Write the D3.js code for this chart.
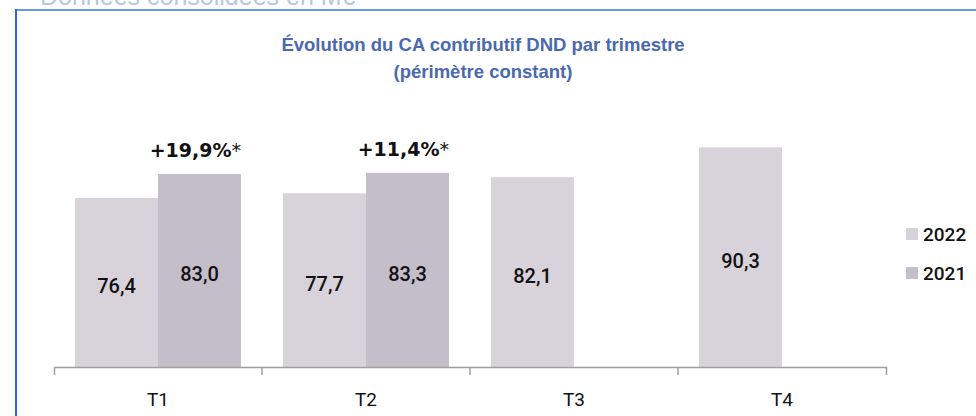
<!DOCTYPE html>
<html>
<head>
<meta charset="utf-8">
<script src="https://cdn.jsdelivr.net/npm/d3@7"></script>
<style>
  body { margin: 0; background: #fff; }
  svg { display: block; }
</style>
</head>
<body>
<svg id="chart"></svg>
<script>
// data
var categories = ["T1", "T2", "T3", "T4"];
var seriesNames = ["2022", "2021"];
var values2022 = [76.4, 77.7, 82.1, 90.3];
var values2021 = [83.0, 83.3, null, null];
var growthLabels = ["+19,9%", "+11,4%", null, null];
var colors = {"2022": "#d8d3da", "2021": "#c4bdca"};

var W = 976, H = 416;
var svg = d3.select("#chart")
    .attr("width", W)
    .attr("height", H);

// frame
svg.append("line")
    .attr("x1", 16).attr("x2", W)
    .attr("y1", 10).attr("y2", 10)
    .style("stroke", "#6c9bd9")
    .style("stroke-width", 2);
svg.append("line")
    .attr("x1", 16).attr("x2", 16)
    .attr("y1", 9).attr("y2", H)
    .style("stroke", "#2c63d2")
    .style("stroke-width", 2);

// header text, cut off at the top like in the source
svg.append("text")
    .attr("x", 40)
    .attr("y", 5)
    .style("font-family", "'Liberation Sans', Arial, sans-serif")
    .style("font-size", "25px")
    .style("fill", "#b9c7df")
    .text("Données consolidées en M€");

// title
var title = svg.append("text")
    .attr("x", 483)
    .attr("y", 51)
    .style("text-anchor", "middle")
    .style("font-family", "'Liberation Sans', Arial, sans-serif")
    .style("font-weight", "bold")
    .style("font-size", "18.5px")
    .style("fill", "#4a69b0");
title.append("tspan").attr("x", 483).text("Évolution du CA contributif DND par trimestre");
title.append("tspan").attr("x", 483).attr("dy", 27).text("(périmètre constant)");

// scales
var x0 = d3.scaleBand()
    .domain(categories)
    .range([54, 886])
    .padding(0);

var x1 = d3.scaleBand()
    .domain(seriesNames)
    .range([21, 187])
    .padding(0);

var y = d3.scaleLinear()
    .domain([30, 100])
    .range([367, 112]);

var rows = categories.map(function(c, i) {
  return {cat: c, vals: [
    {s: "2022", v: values2022[i]},
    {s: "2021", v: values2021[i]}
  ], growth: growthLabels[i]};
});

var groups = svg.append("g").selectAll("g")
    .data(rows)
  .enter().append("g")
    .attr("transform", function(d) { return "translate(" + x0(d.cat) + ",0)"; });

var bars = groups.selectAll("g.bar")
    .data(function(d) { return d.vals.filter(function(e) { return e.v != null; }); })
  .enter().append("g")
    .attr("class", "bar");

bars.append("rect")
    .attr("x", function(d) { return x1(d.s); })
    .attr("width", x1.bandwidth())
    .attr("y", function(d) { return y(d.v); })
    .attr("height", function(d) { return y.range()[0] - y(d.v); })
    .style("fill", function(d) { return colors[d.s]; });

bars.append("text")
    .attr("x", function(d) { return x1(d.s) + x1.bandwidth() / 2; })
    .attr("y", function(d) { return (y(d.v) + y.range()[0]) / 2 + 3; })
    .attr("dy", "0.38em")
    .style("text-anchor", "middle")
    .style("font-family", "Roboto, sans-serif")
    .style("font-weight", "500")
    .style("font-size", "20px")
    .style("fill", "#111")
    .text(function(d) { return d3.format(".1f")(d.v).replace(".", ","); });

// growth annotations
var ann = groups.filter(function(d) { return d.growth; })
  .append("text")
    .attr("x", x1("2021") + x1.bandwidth())
    .attr("y", function(d) { return y(d.vals[1].v) - 17; })
    .style("text-anchor", "end")
    .style("font-family", "'DejaVu Sans', sans-serif")
    .style("font-size", "19px")
    .style("fill", "#111");
ann.append("tspan")
    .style("font-weight", "bold")
    .text(function(d) { return d.growth; });
ann.append("tspan")
    .text("*");

// x axis
var xAxis = svg.append("g")
    .attr("transform", "translate(0,367)")
    .call(d3.axisBottom(x0).tickSize(0).tickSizeOuter(8).tickPadding(26));
xAxis.select(".domain")
    .style("stroke", "#a0a0a0")
    .style("stroke-width", 1.5);
xAxis.selectAll("text")
    .style("font-family", "Roboto, sans-serif")
    .style("font-size", "19px")
    .style("fill", "#111");

// category boundary ticks
xAxis.selectAll("line.sep")
    .data(categories.slice(1))
  .enter().append("line")
    .attr("class", "sep")
    .attr("x1", function(d) { return x0(d); })
    .attr("x2", function(d) { return x0(d); })
    .attr("y1", 0).attr("y2", 8)
    .style("stroke", "#a0a0a0")
    .style("stroke-width", 1.5);

// legend
var legend = svg.append("g").selectAll("g")
    .data(seriesNames)
  .enter().append("g")
    .attr("transform", function(d, i) { return "translate(906," + (228 + i * 39) + ")"; });
legend.append("rect")
    .attr("width", 12).attr("height", 12)
    .style("fill", function(d) { return colors[d]; });
legend.append("text")
    .attr("x", 17)
    .attr("y", 6)
    .attr("dy", "0.36em")
    .style("font-family", "Roboto, sans-serif")
    .style("font-weight", "500")
    .style("font-size", "19px")
    .style("fill", "#111")
    .text(function(d) { return d; });
</script>
</body>
</html>
